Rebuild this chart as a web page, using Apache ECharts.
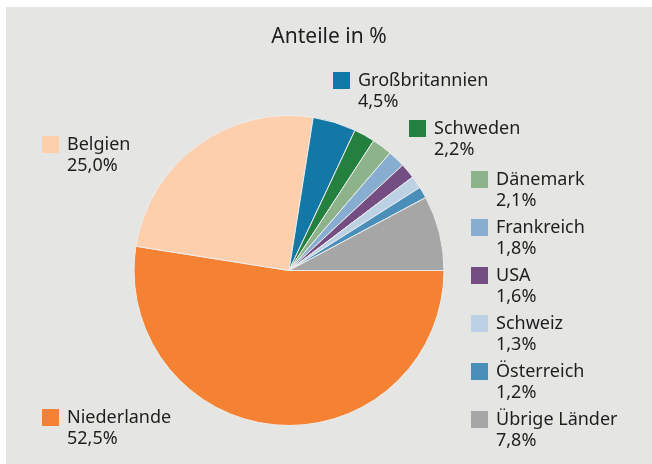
<!DOCTYPE html>
<html>
<head>
<meta charset="utf-8">
<script src="https://cdn.jsdelivr.net/npm/echarts@6/dist/echarts.min.js"></script>
<style>
  html, body { margin: 0; padding: 0; background: #ffffff; }
  #chart { position: absolute; left: 6px; top: 7px; width: 646px; height: 457px; background: #e5e5e3; }
</style>
</head>
<body>
<div id="chart"></div>
<script>
const countries = ['Niederlande', 'Belgien', 'Großbritannien', 'Schweden', 'Dänemark',
  'Frankreich', 'USA', 'Schweiz', 'Österreich', 'Übrige Länder'];
const shares = [52.5, 25.0, 4.5, 2.2, 2.1, 1.8, 1.6, 1.3, 1.2, 7.8];
const colors = ['#f58233', '#fdcfac', '#1478a7', '#23803f', '#8db38a',
  '#87aed0', '#744e82', '#bcd2e4', '#4a8fba', '#a5a6a5'];

// where each legend square sits (chart coords, top-left of the square)
const legendX = [36, 36, 327, 403, 465, 465, 465, 465, 465, 465];
const legendY = [402, 129, 65, 113, 164, 212, 260, 308, 356, 404];

const fmt = v => v.toFixed(1).replace('.', ',') + '%';

const chart = echarts.init(document.getElementById('chart'));

// blank first line so the name line is centred on the square
const legends = countries.map((c, i) => ({
  data: [c],
  left: legendX[i],
  top: legendY[i] - 23,
  padding: 0,
  icon: 'rect',
  itemWidth: 17,
  itemHeight: 17,
  itemStyle: { borderWidth: 0 },
  selectedMode: false,
  formatter: name => ' \n' + name + '\n' + fmt(shares[countries.indexOf(name)]),
  textStyle: {
    fontFamily: 'Noto Sans',
    fontSize: 18,
    color: '#1e1e1e',
    lineHeight: 21,
    padding: [0, 0, 0, 3]
  }
}));

chart.setOption({
  color: colors,
  animation: false,
  title: {
    text: 'Anteile in %',
    left: 'center',
    top: 20,
    padding: 0,
    textStyle: { fontFamily: 'Noto Sans', fontSize: 21, fontWeight: 'normal', color: '#1e1e1e' }
  },
  legend: legends,
  series: [{
    type: 'pie',
    center: [283, 263.5],
    radius: 155,
    startAngle: 0,
    clockwise: true,
    label: { show: false },
    labelLine: { show: false },
    itemStyle: { borderColor: '#ececec', borderWidth: 1 },
    emphasis: { disabled: true },
    data: countries.map((c, i) => ({ name: c, value: shares[i] }))
  }]
});
</script>
</body>
</html>
